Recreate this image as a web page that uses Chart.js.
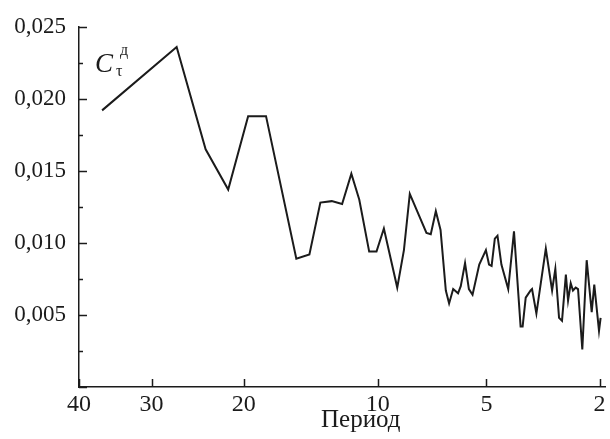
<!DOCTYPE html>
<html><head><meta charset="utf-8">
<script src="https://cdn.jsdelivr.net/npm/chart.js@4.4.0/dist/chart.umd.min.js"></script>
<style>html,body{margin:0;padding:0;background:#fff;}canvas{display:block;}</style>
</head><body>
<canvas id="c" width="610" height="439"></canvas>
<script>
// Period (x) of each point
const periods = [36.6, 27.0, 23.8, 21.5, 19.6, 18.0, 15.5, 14.5, 13.7, 12.9, 12.2, 11.6, 11.1, 10.5, 10.07, 9.65, 8.92, 8.57, 8.27, 7.46, 7.26, 7.03, 6.82, 6.59, 6.45, 6.28, 6.08, 5.97, 5.80, 5.65, 5.51, 5.26, 5.02, 4.91, 4.82, 4.71, 4.62, 4.49, 4.27, 4.09, 3.89, 3.83, 3.74, 3.60, 3.56, 3.44, 3.19, 3.03, 2.95, 2.86, 2.79, 2.70, 2.65, 2.59, 2.54, 2.48, 2.43, 2.34, 2.25, 2.15, 2.10, 2.01, 1.98];
// Coefficient C_τ^д
const coefficient = [0.0192, 0.0236, 0.0165, 0.0137, 0.0188, 0.0188, 0.0089, 0.0092, 0.0128, 0.0129, 0.0127, 0.0148, 0.0130, 0.0094, 0.0094, 0.0110, 0.0069, 0.0095, 0.0134, 0.0107, 0.0106, 0.0122, 0.0109, 0.0067, 0.0058, 0.0068, 0.0065, 0.0070, 0.0086, 0.0068, 0.0064, 0.0085, 0.0095, 0.0085, 0.0084, 0.0103, 0.0105, 0.0085, 0.0068, 0.0108, 0.0042, 0.0042, 0.0062, 0.0067, 0.0068, 0.0051, 0.0096, 0.0067, 0.0082, 0.0048, 0.0046, 0.0078, 0.0060, 0.0072, 0.0067, 0.0069, 0.0068, 0.0026, 0.0088, 0.0052, 0.0071, 0.0039, 0.0048];
const xTickLabels = [40, 30, 20, 10, 5, 2];
const yMajorStep = 0.005;
const yMinorStep = 0.0025;
const xTitle = 'Период';

// Compressed "period" axis (power transform), 40 on the left
class PowerScale extends Chart.LinearScale {
  static id = 'power';
  buildTicks() { return xTickLabels.map(v => ({ value: v })); }
  _f(v) { return Math.pow(v, this.options.exponent || 0.3); }
  getPixelForValue(v) {
    const t = (this._f(this.max) - this._f(v)) / (this._f(this.max) - this._f(this.min));
    return this.getPixelForDecimal(t);
  }
  getValueForPixel(px) {
    const t = this.getDecimalForPixel(px);
    const u = this._f(this.max) - t * (this._f(this.max) - this._f(this.min));
    return Math.pow(u, 1 / (this.options.exponent || 0.3));
  }
}
Chart.register(PowerScale);

const INK = '#1b1b1b';

const innerTicks = {
  id: 'innerTicks',
  afterDraw(chart) {
    const { ctx, chartArea, scales: { x, y } } = chart;
    ctx.save();
    ctx.strokeStyle = INK; ctx.lineWidth = 1.5;
    y.ticks.forEach(t => {
      const py = Math.round(y.getPixelForValue(t.value)) + 0.5;
      const r = t.value / yMajorStep;
      const major = Math.abs(r - Math.round(r)) < 1e-6;
      const len = major ? 8 : 4;
      ctx.beginPath(); ctx.moveTo(chartArea.left, py); ctx.lineTo(chartArea.left + len, py); ctx.stroke();
    });
    x.ticks.forEach(t => {
      const px = Math.round(x.getPixelForValue(t.value)) + 0.5;
      ctx.beginPath(); ctx.moveTo(px, chartArea.bottom); ctx.lineTo(px, chartArea.bottom - 8); ctx.stroke();
    });
    ctx.restore();
  }
};

const symbolLabel = {
  id: 'symbolLabel',
  afterDraw(chart) {
    const { ctx, chartArea } = chart;
    const l = chartArea.left, t = chartArea.top;
    ctx.save();
    ctx.fillStyle = INK;
    ctx.textBaseline = 'alphabetic';
    ctx.textAlign = 'left';
    ctx.font = 'italic 27px "Liberation Serif"';
    ctx.fillText('C', l + 16, t + 45);
    ctx.font = '16px "Liberation Serif"';
    ctx.fillText('τ', l + 37, t + 49);
    ctx.fillText('д', l + 41, t + 28);
    ctx.restore();
  }
};

new Chart(document.getElementById('c'), {
  type: 'line',
  data: {
    datasets: [{
      data: periods.map((p, i) => ({ x: p, y: coefficient[i] })),
      borderColor: INK,
      borderWidth: 2,
      pointRadius: 0,
      tension: 0,
      fill: false
    }]
  },
  options: {
    responsive: false,
    animation: false,
    devicePixelRatio: 1,
    layout: { padding: { top: 25, right: 5, left: 0, bottom: 0 } },
    plugins: { legend: { display: false }, tooltip: { enabled: false } },
    scales: {
      x: {
        type: 'power',
        exponent: 0.3,
        min: 1.9,
        max: 40,
        grid: { display: false, drawTicks: false },
        border: { display: true, color: INK, width: 1.5 },
        ticks: {
          autoSkip: false, maxRotation: 0, padding: 3, color: INK,
          font: { family: '"Liberation Serif"', size: 24 },
          callback: v => String(v)
        },
        title: {
          display: true, text: '      ' + xTitle, color: INK,
          font: { family: '"Liberation Serif"', size: 25 },
          padding: { top: 0, bottom: 4 }
        },
        afterFit: s => { s.height = 52; }
      },
      y: {
        min: 0,
        max: 0.025,
        grid: { display: false, drawTicks: false },
        border: { display: true, color: INK, width: 1.5 },
        ticks: {
          stepSize: yMinorStep, padding: 13, color: INK, autoSkip: false,
          font: { family: '"Liberation Serif"', size: 23 },
          callback: v => {
            const r = v / yMajorStep;
            if (v === 0 || Math.abs(r - Math.round(r)) > 1e-6) return '';
            return v.toFixed(3).replace('.', ',');
          }
        },
        afterFit: s => { s.width = 79; }
      }
    }
  },
  plugins: [innerTicks, symbolLabel]
});
</script>
</body></html>
